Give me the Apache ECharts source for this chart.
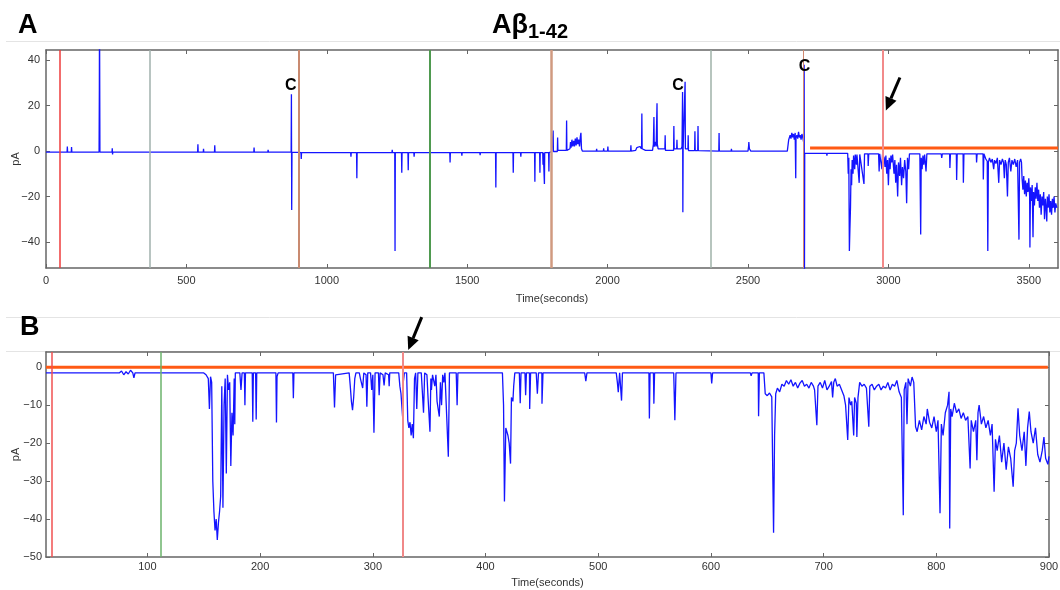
<!DOCTYPE html>
<html><head><meta charset="utf-8">
<script src="https://cdn.jsdelivr.net/npm/echarts@6/dist/echarts.min.js"></script>
<style>html,body{margin:0;padding:0;background:#fff}#c{width:1060px;height:590px}</style>
</head><body><div id="c"></div>
<script>
// ---------- DATA ----------
const xTicksA = [0, 500, 1000, 1500, 2000, 2500, 3000, 3500];
const yTicksA = [-40, -20, 0, 20, 40];
const xTicksB = [100, 200, 300, 400, 500, 600, 700, 800, 900];
const yTicksB = [-50, -40, -30, -20, -10, 0];

const vlinesA = [50, 370, 901, 1368, 1798, 2368, 2696, 2981];
const vlinesB = [15, 112, 327];

const thresholdA = [[2721, 1.3], [3604, 1.3]];
const thresholdB = [[10, 0], [899, 0]];

const cLabelsA = [[872, 28.7], [2251, 28.7], [2701, 37.2]];
const arrowA = [[3041, 32.4], [2991, 17.9]];   // tail, tip (data units)
const arrowB = [[343.4, 13.2], [331.4, 4.5]];

const traceA = [
[0,-0.5],[75,-0.5],[76,2],[77,-0.5],[90,-0.5],[91,1.8],[92,-0.5],[189,-0.5],[190,27],[190.5,60],[191,45],[192,-0.5],
[235,-0.5],[236,1.2],[237,-1.5],[238,-0.5],[540,-0.5],[541,3],[542,-0.5],[560,-0.5],[561,1],[562,-0.5],[600,-0.5],[601,2.5],[602,-0.5],
[740,-0.5],[741,1.5],[742,-0.5],[790,-0.5],[791,0.5],[792,-0.5],[873,-0.5],[874,25],[875,-26],[876,-0.5],[900,-0.6],
[908,-0.7],[909,-3.5],[910,-0.7],[1085,-0.7],[1086,-2.5],[1087,-0.7],[1106,-0.7],[1107,-12],[1108,-0.7],[1232,-0.7],[1233,0.5],[1234,-0.7],
[1242,-0.7],[1243,-44],[1244,-0.7],[1266,-0.7],[1267,-9.5],[1268,-0.7],[1289,-0.7],[1290,-8.5],[1291,-0.7],[1310,-0.7],[1311,-2.5],[1312,-0.7],
[1438,-0.7],[1439,-5],[1440,-0.7],[1480,-0.7],[1481,-2],[1482,-0.7],[1545,-0.7],[1546,-1.8],[1547,-0.7],[1601,-0.7],[1602,-16],[1603,-0.7],
[1663,-0.7],[1664,-9.5],[1665,-0.7],[1690,-0.7],[1691,-2.5],[1692,-0.7],[1740,-0.7],[1741,-13.5],[1742,-0.7],[1758,-0.7],[1759,-9.5],[1760,-0.7],
[1769,-0.7],[1770,-6],[1771,-0.7],[1774,-0.7],[1775,-14.5],[1776,-0.7],[1790,-0.7],[1791,-9],[1792,-0.7],[1799,-0.6],
[1801,-0.2],[1805,-0.2],[1806,9],[1807,-0.2],[1821,-0.2],[1822,6],[1823,0.3],[1853,0.3],[1854,13.5],[1855,0.3],[1866,1],[1868,4],[1870,1.5],
[1873,5],[1876,2],[1879,4.5],[1882,2],[1885,5.5],[1888,2.5],[1891,6],[1894,3],[1897,5],[1900,2],[1903,6.5],[1905,8],[1907,1],[1910,0],
[1960,0],[1961,1],[1962,0],[1985,0],[1986,1.2],[1987,0],[2000,0],[2001,2],[2002,0],[2082,0],[2083,2.5],[2084,0],[2100,0.3],[2104,1.5],
[2110,1],[2115,2],[2121,1],[2122,16.5],[2123,1],[2128,1.5],[2135,0.3],[2160,0.3],[2163,3],[2165,15],[2166,2],[2170,4],[2173,2],[2176,21],
[2177,3],[2180,1],[2204,1],[2205,7],[2206,0.3],[2235,0.3],[2236,11],[2237,1],[2246,1],[2247,5],[2248,1],[2262,1],[2265,2],[2267,26],[2268,-27],
[2269,1],[2275,1],[2276,30.5],[2277,1],[2286,1],[2287,7],[2288,0.2],[2310,0.2],[2311,8.7],[2312,0.2],[2321,0.2],[2322,11],[2323,0.2],
[2396,0],[2397,8],[2398,0],[2440,0],[2441,1],[2442,0],[2500,0],[2502,2],[2503,4],[2505,1],[2510,0],[2600,0],[2640,0],
[2645,5],[2650,7],[2653,5.5],[2656,8],[2659,6],[2662,7.5],[2665,5],[2668,8],[2670,-12],[2671,6],[2674,7],[2677,5.5],[2680,8.5],[2683,6],
[2686,7],[2689,5],[2692,7.5],[2695,6],[2698,4],[2700,38],[2701,-60],[2702,-1],
[2710,-1],[2780,-1],[2781,-2],[2782,-1],[2785,-1],[2786,-1.8],[2787,-1],[2855,-1],
[2857,-10],[2859,-3],[2861,-44],[2863,-34],[2865,-25],[2867,-8],[2869,-15],[2871,-4],[2874,-10],[2876,-2],[2880,-8],[2882,-1.5],[2886,-6],
[2888,-1.5],[2896,-14],[2898,-1.5],[2905,-1.2],[2913,-14.5],[2915,-1.2],[2927,-1.2],[2928,-6.6],[2930,-1.2],[2965,-1.2],[2967,-9],[2969,-1.2],
[2975,-1],[2977,-8],[2979,-1.5],[2985,-3],[2988,-7],[2991,-2],[2994,-10],[2997,-4],[3000,-15],[3003,-3],[3006,-8],[3009,-2],[3012,-5],
[3015,-1.5],[3020,-10],[3023,-4],[3026,-14],[3029,-6],[3033,-20],[3036,-5],[3040,-11],[3043,-3],[3047,-15],[3050,-7],[3054,-12],[3058,-4],
[3062,-9],[3065,-23],[3068,-3],[3072,-8],[3075,-1.2],[3112,-1.2],[3115,-36.7],[3117,-3],[3120,-8],[3123,-2],[3126,-6],[3129,-1.5],[3134,-9],
[3137,-1.2],[3188,-1.2],[3190,-3],[3192,-1.2],[3218,-1.2],[3219,-7.5],[3221,-1.2],[3242,-1.2],[3243,-12.7],[3245,-1.2],[3266,-1.2],[3267,-14],
[3269,-1.2],[3313,-1.2],[3314,-5],[3316,-1.2],[3337,-1.2],[3338,-12.5],[3340,-1.2],[3345,-1.2],
[3347,-3.5],[3352,-4.5],[3354,-44],[3356,-5],[3360,-3],[3365,-5],[3370,-3.5],[3375,-8],[3378,-4],[3383,-5.5],[3388,-3],[3393,-14],[3396,-4],
[3401,-6],[3406,-3.5],[3410,-5],[3413,-12],[3416,-4],[3420,-6],[3424,-20],[3427,-5],[3431,-3],[3436,-9],[3440,-4],[3445,-6],[3450,-3.5],
[3455,-7],[3460,-4],[3465,-39],[3467,-5],[3471,-3.5],[3474,-5],
[3476,-12],[3479,-17],[3482,-11],[3485,-19],[3488,-13],[3491,-20],[3494,-14],[3497,-18],[3500,-12],[3503,-20],[3504,-42.5],[3506,-16],
[3509,-22],[3512,-15],[3515,-38],[3517,-18],[3520,-24],[3523,-16],[3526,-21],[3529,-14],[3532,-22],[3535,-17],[3538,-25],[3541,-19],
[3544,-28],[3547,-20],[3550,-24],[3553,-18],[3556,-30],[3559,-21],[3562,-26],[3564,-31],[3566,-20],[3569,-25],[3572,-19],[3575,-27],
[3578,-22],[3581,-28],[3584,-21],[3587,-25],[3590,-20],[3593,-27],[3596,-23],[3600,-25]
];

const traceB = [
[10,-1.5],[75,-1.5],[77,-1],[79,-2],[81,-1.2],[83,-1.8],[85,-0.8],[87,-1.5],[88,-2.8],[89,-1.5],[150,-1.5],[152,-2],[154,-3],[155,-11],
[156,-2.5],[157,-4],[158,-30],[159,-38],[160,-43],[161,-40],[162,-45.5],[163,-41],[164,-38],[165,-34],[166,-5],[167,-37],[168,-10],[169,-3],
[170,-28],[171,-2],[172,-6],[173,-4],[174,-26],[175,-12],[176,-18],[177,-3],[177.5,-15],[178,-1.5],[182,-1.5],[183,-6],[184,-1.5],[186,-1.5],
[186.5,-10],[187,-1.5],[193,-1.5],[193.5,-14.4],[194,-1.5],[196,-1.5],[196.5,-13.8],[197,-1.5],[214,-1.5],[214.5,-14.6],[215,-2.5],[216,-1.5],
[229,-1.5],[229.5,-8.2],[230,-1.5],[265,-1.5],[266,-10.6],[267,-2],[268,-1.5],[279,-1.5],[280,-5],[281,-9],[282,-11.3],[283,-8],[284,-3],
[285,-1.5],[288,-1.5],[289,-3],[291,-5.5],[292,-1.5],[294,-2],[294.7,-10.4],[295.5,-1.5],[298,-1.5],[299,-6],[300,-2],[301,-17.3],[302,-1.5],
[305,-1.5],[305.6,-7.4],[306.5,-1.5],[309,-2],[310,-4.8],[311,-1.5],[314,-2],[314.5,-5],[315,-1.5],[323,-1.5],[324,-5],[325,-7],[326.4,-13],
[327,-4],[328,-1.5],[330,-1.5],[331,-14],[332,-16],[333,-14.5],[334,-18],[335,-15],[336,-18.7],[337,-3],[338,-1.5],[339,-11],[340,-1.5],
[343,-1.5],[345,-12],[346,-1.5],[348,-2],[349,-8],[350.7,-17],[351.5,-3],[352,-6],[353,-2],[355,-5],[356,-2],[357,-9],[359,-13],[360,-4],
[361,-10],[362,-2],[363,-4],[364,-1.5],[367,-23.6],[368,-1.5],[374,-1.5],[374.8,-10],[375.5,-1.5],[415,-1.5],[416,-10],[416.8,-35.4],
[418,-16],[419.9,-18],[421,-20],[422.2,-25.4],[423,-8],[424.3,-9],[425,-5],[426,-1.5],[430,-1.5],[430.8,-9.5],[431.5,-1.5],[435,-1.5],
[435.6,-7.4],[436.3,-1.5],[439,-1.5],[439.2,-11],[440,-1.5],[445,-1.5],[446,-7],[447,-1.5],[450,-1.5],[450.1,-9.6],[451,-1.5],[488,-1.5],
[489,-3.7],[490,-1.5],[516,-1.5],[517,-4],[517.8,-6.6],[519,-1.5],[520,-2],[520.7,-8.8],[521.5,-1.5],[545,-1.5],[545.4,-13.5],[546,-1.5],
[549,-1.5],[549.4,-9.6],[550,-1.5],[567,-1.5],[568,-14],[569,-1.5],[575,-1.5],[576,-2],[577,-1.5],[600,-1.5],[600.7,-4.3],[601.5,-1.5],
[635,-1.5],[635.7,-2.3],[636.5,-1.5],[642,-1.5],[642.3,-12.9],[643,-1.5],[647,-1.5],
[648.2,-7],[650,-7.5],[652,-6.8],[654,-7.8],[655.6,-43.6],[656.5,-18],[657.5,-7],[659,-5.5],[661,-6.5],[663,-4.5],[665,-5],[667,-3.5],
[669,-4.5],[671,-3.3],[673,-5],[675,-4],[677,-5.5],[679,-4.2],[681,-3.5],[683,-5],[685,-4.5],[687,-5.5],[689,-4],[691,-5],[692,-6],
[694,-15.3],[695,-5],[697,-4],[699,-5.5],[701,-3.5],[703,-6],[705,-5],[707,-3.8],[708,-8],[709,-4],[710.4,-3],[712,-5],[714,-4.5],[716,-6],
[718,-7.5],[719.5,-10],[721.4,-19.2],[722.5,-8],[724,-10],[725,-9],[726.7,-18],[727.5,-8],[729,-9.5],[729.5,-18.4],[730.5,-8],[732,-4],
[734,-5],[736,-4.5],[738,-5.5],[740.1,-15.7],[741,-5],[743,-4.5],[745,-6],[747,-5],[749,-4.5],[751,-6],[753,-5],[755,-5.5],[757,-4],
[759,-6],[761,-4.5],[763,-5],[765,-3.5],[767,-6.5],[769,-8],[770.7,-39],[771.5,-6],[773,-4],[774,-15],[775,-3],[777,-5],[778.5,-2.6],
[780,-4],[781.6,-15.7],[783,-17],[785,-14],[787,-16.5],[789,-13],[791,-15],[792,-11],[794,-14.5],[796,-16],[798,-13],[800,-17],[801.5,-14],
[803.3,-38.5],[804.5,-15],[806,-18],[808,-12],[810,-10],[811.3,-6.5],[811.9,-42.5],[812.8,-11],[814,-13],[816,-9.5],[818,-12],[820,-11],
[822,-13.5],[824,-12],[826,-14],[828,-13],[830,-26.7],[831,-14],[833,-17],[835,-14],[836,-24.5],[837,-12],[838,-10],[840,-15],[842,-13],
[844,-16],[846,-14],[848,-18],[849.5,-15],[851.3,-32.8],[852.5,-19],[854,-22],[856,-18],[858,-25],[860,-20],[862,-27],[864,-21],[866,-24],
[868.2,-31.5],[869.5,-22],[871,-20],[872.5,-10.8],[874,-18],[876,-22],[878,-17],[879.5,-26],[881,-16],[882.5,-11.7],[884,-17],[886,-20],
[888,-16],[890,-23],[892,-25],[894,-22],[895.5,-18.4],[897,-24],[899,-25.6],[900,-23.5]
];

// ---------- STYLE ----------
const vlineStyleA = [
  {color:'#ee3b3b', width:1.5}, {color:'#a0b0ac', width:1.5}, {color:'#c98a70', width:2},
  {color:'#4f9a50', width:2}, {color:'#d09a80', width:2.5}, {color:'#9fb2a8', width:1.5},
  {color:'#d08870', width:1}, {color:'#f28a8a', width:2}
];
const vlineStyleB = [{color:'#f05050', width:1.5}, {color:'#6bb36b', width:1.5}, {color:'#f08888', width:2}];

const FONT = 'Liberation Sans, Arial, sans-serif';
const AX = '#666';
const fmt = v => String(v).replace('-', '\u2212');

function xAxisPair(grid, min, max, ticks, margin, nameGap) {
  return [
    { type:'value', gridIndex:grid, position:'bottom', min, max,
      name:'Time(seconds)', nameLocation:'middle', nameGap, nameMoveOverlap:false,
      nameTextStyle:{fontFamily:FONT, fontSize:11, color:'#333'},
      axisLine:{show:true, onZero:false, lineStyle:{color:AX, width:1.5}},
      axisTick:{show:true, inside:true, length:4, lineStyle:{color:AX}, customValues:ticks},
      axisLabel:{show:true, margin, fontFamily:FONT, fontSize:11, color:'#333', customValues:ticks, formatter:fmt},
      splitLine:{show:false} },
    { type:'value', gridIndex:grid, position:'top', min, max,
      axisLine:{show:true, onZero:false, lineStyle:{color:AX, width:1.5}},
      axisTick:{show:true, inside:true, length:4, lineStyle:{color:AX}, customValues:ticks},
      axisLabel:{show:false}, splitLine:{show:false} }
  ];
}
function yAxisPair(grid, min, max, ticks, margin, nameGap) {
  return [
    { type:'value', gridIndex:grid, position:'left', min, max,
      name:'pA', nameLocation:'middle', nameGap, nameRotate:90, nameMoveOverlap:false,
      nameTextStyle:{fontFamily:FONT, fontSize:11, color:'#333'},
      axisLine:{show:true, onZero:false, lineStyle:{color:AX, width:1.5}},
      axisTick:{show:true, inside:true, length:4, lineStyle:{color:AX}, customValues:ticks},
      axisLabel:{show:true, margin, fontFamily:FONT, fontSize:11, color:'#333', customValues:ticks, formatter:fmt},
      splitLine:{show:false} },
    { type:'value', gridIndex:grid, position:'right', min, max,
      axisLine:{show:true, onZero:false, lineStyle:{color:AX, width:1.5}},
      axisTick:{show:true, inside:true, length:4, lineStyle:{color:AX}, customValues:ticks},
      axisLabel:{show:false}, splitLine:{show:false} }
  ];
}

const chart = echarts.init(document.getElementById('c'), null, {renderer:'canvas'});

const mkLines = (ts, st) => ts.map((t, i) => ({xAxis:t, lineStyle:{color:st[i].color, width:st[i].width, type:'solid'}}));

chart.setOption({
  backgroundColor:'#fff',
  animation:false,
  grid:[
    {left:46, top:50, right:2, height:218, containLabel:false, outerBoundsMode:'none'},
    {left:46, top:352, right:11, height:205, containLabel:false, outerBoundsMode:'none'}
  ],
  xAxis:[...xAxisPair(0, 0, 3604, xTicksA, 7, 25), ...xAxisPair(1, 10, 900, xTicksB, 4, 20)],
  yAxis:[...yAxisPair(0, -51.5, 44.5, yTicksA, 6, 25), ...yAxisPair(1, -50, 4, yTicksB, 4, 25)],
  series:[
    { type:'line', xAxisIndex:0, yAxisIndex:0, data:traceA, symbol:'none', showSymbol:false,
      lineStyle:{color:'#1414ff', width:1.3}, z:3,
      markLine:{silent:true, symbol:['none','none'], label:{show:false}, animation:false, data:mkLines(vlinesA, vlineStyleA)} },
    { type:'line', xAxisIndex:0, yAxisIndex:0, data:thresholdA, symbol:'none', lineStyle:{color:'#ff5a14', width:3}, z:4 },
    { type:'line', xAxisIndex:2, yAxisIndex:2, data:traceB, symbol:'none', showSymbol:false,
      lineStyle:{color:'#1414ff', width:1.3}, z:3,
      markLine:{silent:true, symbol:['none','none'], label:{show:false}, animation:false, data:mkLines(vlinesB, vlineStyleB)} },
    { type:'line', xAxisIndex:2, yAxisIndex:2, data:thresholdB, symbol:'none', lineStyle:{color:'#ff5a14', width:3}, z:4 }
  ]
});

function arrowEls(pts, axes) {
  const p0 = chart.convertToPixel(axes, pts[0]);
  const p1 = chart.convertToPixel(axes, pts[1]);
  const dx = p1[0]-p0[0], dy = p1[1]-p0[1];
  const L = Math.hypot(dx, dy), ux = dx/L, uy = dy/L;
  const hl = 13, hw = 6;
  const bx = p1[0]-ux*hl, by = p1[1]-uy*hl;
  return [
    {type:'line', shape:{x1:p0[0], y1:p0[1], x2:bx, y2:by}, style:{stroke:'#000', lineWidth:3}, z:100},
    {type:'polygon', shape:{points:[[p1[0],p1[1]],[bx-uy*hw, by+ux*hw],[bx+uy*hw, by-ux*hw]]}, style:{fill:'#000'}, z:100}
  ];
}
function cLabelEls(pts, axes) {
  return pts.map(p => {
    const q = chart.convertToPixel(axes, p);
    return {type:'text', x:q[0], y:q[1], z:100,
      style:{text:'C', font:'bold 16px ' + FONT, fill:'#000', align:'center', verticalAlign:'middle'}};
  });
}

chart.setOption({
  graphic:[
    {type:'line', shape:{x1:6, y1:41.5, x2:1060, y2:41.5}, style:{stroke:'#e4e4e4', lineWidth:1}},
    {type:'line', shape:{x1:6, y1:317.5, x2:1060, y2:317.5}, style:{stroke:'#e4e4e4', lineWidth:1}},
    {type:'line', shape:{x1:6, y1:351.5, x2:1060, y2:351.5}, style:{stroke:'#e4e4e4', lineWidth:1}, z:-1},
    {type:'text', left:18, top:12, style:{text:'A', font:'bold 27px ' + FONT, fill:'#000'}},
    {type:'text', left:20, top:314, style:{text:'B', font:'bold 27px ' + FONT, fill:'#000'}},
    {type:'text', left:492, top:12, style:{text:'A\u03b2', font:'bold 27px ' + FONT, fill:'#000'}},
    {type:'text', left:528, top:22, style:{text:'1-42', font:'bold 20px ' + FONT, fill:'#000'}},
    ...cLabelEls(cLabelsA, {xAxisIndex:0, yAxisIndex:0}),
    ...arrowEls(arrowA, {xAxisIndex:0, yAxisIndex:0}),
    ...arrowEls(arrowB, {xAxisIndex:2, yAxisIndex:2})
  ]
});
</script>
</body></html>
